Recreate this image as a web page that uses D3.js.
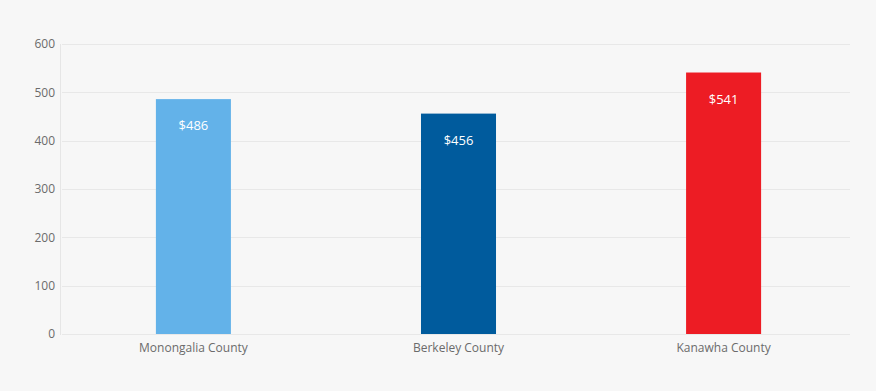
<!DOCTYPE html>
<html>
<head>
<meta charset="utf-8">
<script src="https://cdn.jsdelivr.net/npm/d3@7"></script>
<style>
  body { margin: 0; background: #f7f7f7; }
  .chart text { font-family: "Open Sans", sans-serif; }
  .axis path, .axis line { stroke: none; }
  .axis text { fill: #6b6b6b; font-size: 12px; }
  .grid line { stroke: #e8e8e8; stroke-width: 1; }
  .value { fill: #fff; font-size: 13px; }
</style>
</head>
<body>
<div class="chart"></div>
<script>
  var counties = ["Monongalia County", "Berkeley County", "Kanawha County"];
  var values = [486, 456, 541];
  var colors = ["#63b2e9", "#005b9d", "#ed1c24"];
  var yTicks = [0, 100, 200, 300, 400, 500, 600];

  var width = 876,
      height = 391,
      axisX = 60,
      gridRight = 850,
      plotTop = 44,
      plotBottom = 334;

  var svg = d3.select(".chart").append("svg")
      .attr("width", width)
      .attr("height", height);

  svg.append("rect")
      .attr("width", width)
      .attr("height", height)
      .attr("fill", "#f7f7f7");

  var x = d3.scaleBand()
      .domain(counties)
      .range([61, 856])
      .paddingInner(0.717)
      .paddingOuter(0.358);

  var y = d3.scaleLinear()
      .domain([0, 600])
      .range([plotBottom, plotTop]);

  // gridlines
  svg.append("g")
      .attr("class", "grid")
      .selectAll("line")
      .data(yTicks)
      .enter().append("line")
      .attr("x1", axisX + 2)
      .attr("x2", gridRight)
      .attr("y1", function(d) { return Math.round(y(d)) + 0.5; })
      .attr("y2", function(d) { return Math.round(y(d)) + 0.5; });

  // vertical axis line
  svg.append("line")
      .attr("x1", axisX + 0.5)
      .attr("x2", axisX + 0.5)
      .attr("y1", plotTop)
      .attr("y2", plotBottom + 1)
      .attr("stroke", "#e6e6e6");

  svg.append("g")
      .attr("class", "axis axis--y")
      .attr("transform", "translate(" + (axisX - 5) + ",0)")
      .call(d3.axisLeft(y).tickValues(yTicks).tickSize(0).tickPadding(0));

  svg.append("g")
      .attr("class", "axis axis--x")
      .attr("transform", "translate(0," + (plotBottom + 9) + ")")
      .call(d3.axisBottom(x).tickSize(0).tickPadding(0));

  svg.selectAll(".bar")
      .data(values)
      .enter().append("rect")
      .attr("class", "bar")
      .attr("x", function(d, i) { return x(counties[i]); })
      .attr("width", x.bandwidth())
      .attr("y", function(d) { return y(d); })
      .attr("height", function(d) { return y(0) - y(d); })
      .attr("fill", function(d, i) { return colors[i]; });

  svg.selectAll(".value")
      .data(values)
      .enter().append("text")
      .attr("class", "value")
      .attr("text-anchor", "middle")
      .attr("x", function(d, i) { return x(counties[i]) + x.bandwidth() / 2; })
      .attr("y", function(d) { return y(d) + 31; })
      .text(function(d) { return "$" + d; });
</script>
</body>
</html>
